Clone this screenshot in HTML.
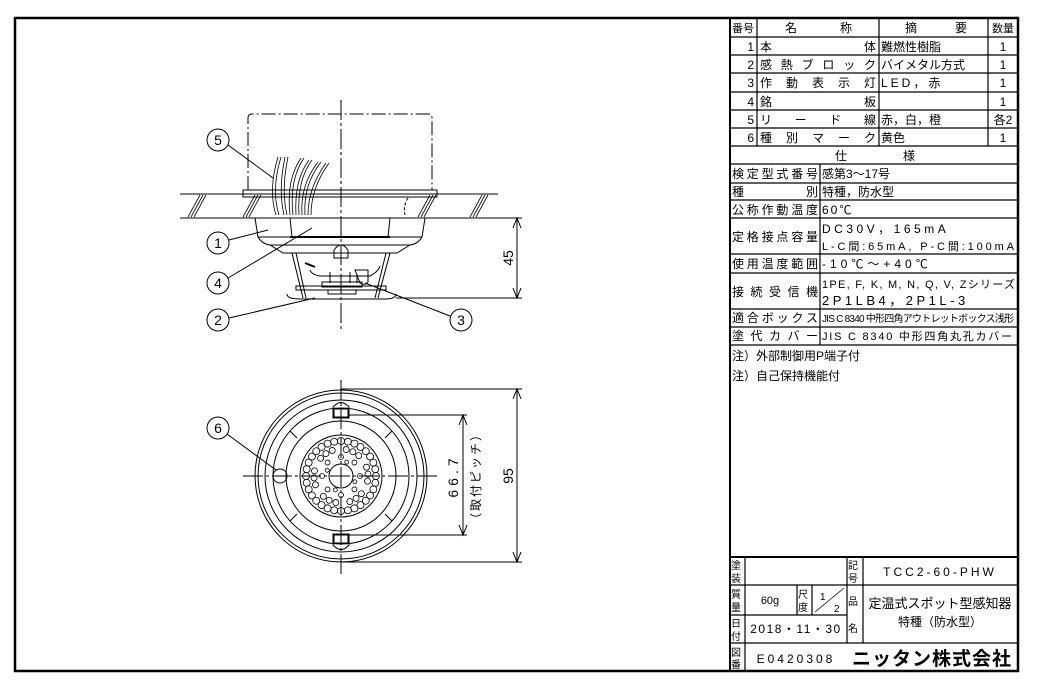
<!DOCTYPE html>
<html><head><meta charset="utf-8"><style>
html,body{margin:0;padding:0;background:#fff}
svg{display:block}
text{font-family:"Liberation Sans","Noto Sans CJK JP",sans-serif;fill:#000}
</style></head><body>
<svg width="1043" height="683" viewBox="0 0 1043 683" xmlns="http://www.w3.org/2000/svg">
<rect x="15" y="18" width="1003" height="653" fill="none" stroke="#000" stroke-width="2.5"/>

<g stroke="#000" fill="none" stroke-width="1.2">
<line x1="730" y1="18" x2="730" y2="671" stroke-width="2"/>
<g>
<line x1="730" y1="37" x2="1018" y2="37"/>
<line x1="730" y1="55" x2="1018" y2="55"/>
<line x1="730" y1="73" x2="1018" y2="73"/>
<line x1="730" y1="92" x2="1018" y2="92"/>
<line x1="730" y1="110" x2="1018" y2="110"/>
<line x1="730" y1="128" x2="1018" y2="128"/>
<line x1="730" y1="146" x2="1018" y2="146"/>
<line x1="730" y1="164" x2="1018" y2="164"/>
<line x1="730" y1="183" x2="1018" y2="183"/>
<line x1="730" y1="200" x2="1018" y2="200"/>
<line x1="730" y1="218" x2="1018" y2="218"/>
<line x1="730" y1="254" x2="1018" y2="254"/>
<line x1="730" y1="273" x2="1018" y2="273"/>
<line x1="730" y1="309" x2="1018" y2="309"/>
<line x1="730" y1="327" x2="1018" y2="327"/>
<line x1="730" y1="345" x2="1018" y2="345"/>
<line x1="757" y1="18" x2="757" y2="146"/>
<line x1="879" y1="18" x2="879" y2="146"/>
<line x1="988" y1="18" x2="988" y2="146"/>
<line x1="820" y1="164" x2="820" y2="345"/>
</g>
<line x1="730" y1="557" x2="1018" y2="557" stroke-width="2"/>
<line x1="730" y1="585" x2="1018" y2="585"/>
<line x1="730" y1="615" x2="847" y2="615"/>
<line x1="730" y1="643" x2="1018" y2="643"/>
<line x1="745" y1="557" x2="745" y2="671"/>
<line x1="847" y1="557" x2="847" y2="643"/>
<line x1="863" y1="557" x2="863" y2="643"/>
<line x1="797" y1="585" x2="797" y2="615"/>
<line x1="812" y1="585" x2="812" y2="615"/>
<line x1="815" y1="612" x2="844" y2="588" stroke-width="0.8"/>
</g>

<g font-size="12">
<text x="743" y="32" text-anchor="middle" font-size="11">番号</text>
<text x="785" y="32">名</text><text x="840" y="32">称</text>
<text x="905" y="32">摘</text><text x="955" y="32">要</text>
<text x="1003" y="32" text-anchor="middle" font-size="11">数量</text>

<g text-anchor="end"><text x="754" y="51">1</text><text x="754" y="69">2</text><text x="754" y="87">3</text><text x="754" y="106">4</text><text x="754" y="124">5</text><text x="754" y="142">6</text></g>
<text x="760" y="51" textLength="116" lengthAdjust="spacing">本体</text>
<text x="760" y="69" textLength="116" lengthAdjust="spacing">感熱ブロック</text>
<text x="760" y="87" textLength="116" lengthAdjust="spacing">作動表示灯</text>
<text x="760" y="106" textLength="116" lengthAdjust="spacing">銘板</text>
<text x="760" y="124" textLength="116" lengthAdjust="spacing">リード線</text>
<text x="760" y="142" textLength="116" lengthAdjust="spacing">種別マーク</text>
<text x="881" y="51">難燃性樹脂</text>
<text x="881" y="69">バイメタル方式</text>
<text x="881" y="87" letter-spacing="3">LED，赤</text>
<text x="881" y="124">赤，白，橙</text>
<text x="881" y="142">黄色</text>
<g text-anchor="middle"><text x="1003" y="51">1</text><text x="1003" y="69">1</text><text x="1003" y="87">1</text><text x="1003" y="106">1</text><text x="1003" y="124">各2</text><text x="1003" y="142">1</text></g>
<text x="835" y="160">仕</text><text x="903" y="160">様</text>

<text x="732" y="178" textLength="86" lengthAdjust="spacing">検定型式番号</text>
<text x="732" y="196" textLength="86" lengthAdjust="spacing">種別</text>
<text x="732" y="214" textLength="86" lengthAdjust="spacing">公称作動温度</text>
<text x="732" y="241" textLength="86" lengthAdjust="spacing">定格接点容量</text>
<text x="732" y="268" textLength="86" lengthAdjust="spacing">使用温度範囲</text>
<text x="732" y="296" textLength="86" lengthAdjust="spacing">接続受信機</text>
<text x="732" y="322" textLength="86" lengthAdjust="spacing">適合ボックス</text>
<text x="732" y="340" textLength="86" lengthAdjust="spacing">塗代カバー</text>

<text x="822" y="178">感第3～17号</text>
<text x="822" y="196">特種，防水型</text>
<text x="822" y="214" letter-spacing="2">60℃</text>
<text x="822" y="233" letter-spacing="3.5">DC30V，165mA</text>
<text x="822" y="250" font-size="11" textLength="192" lengthAdjust="spacing">L-C間:65mA, P-C間:100mA</text>
<text x="822" y="268" letter-spacing="4">-10℃～+40℃</text>
<text x="822" y="288" font-size="11" textLength="193" lengthAdjust="spacing">1PE, F, K, M, N, Q, V, Zシリーズ</text>
<text x="822" y="305" font-size="13" letter-spacing="3.5">2P1LB4，2P1L-3</text>
<text x="822" y="322" font-size="10" textLength="192" lengthAdjust="spacing">JIS C 8340 中形四角アウトレットボックス浅形</text>
<text x="822" y="340" font-size="11" textLength="190" lengthAdjust="spacing">JIS C 8340 中形四角丸孔カバー</text>

<text x="732" y="360">注）外部制御用P端子付</text>
<text x="732" y="380">注）自己保持機能付</text>

<g font-size="10">
<text x="731" y="569">塗</text><text x="731" y="582">装</text>
<text x="848" y="569">記</text><text x="848" y="582">号</text>
<text x="731" y="598">質</text><text x="731" y="611">量</text>
<text x="798" y="598">尺</text><text x="798" y="611">度</text>
<text x="731" y="627">日</text><text x="731" y="640">付</text>
<text x="731" y="656">図</text><text x="731" y="668">番</text>
<text x="848" y="605">品</text><text x="848" y="632">名</text>
</g>
<text x="940" y="576" text-anchor="middle" letter-spacing="3">TCC2-60-PHW</text>
<text x="770" y="604" text-anchor="middle" font-size="11">60g</text>
<text x="820" y="600" font-size="10">1</text><text x="834" y="612" font-size="10">2</text>
<text x="796" y="633" text-anchor="middle" letter-spacing="1.5">2018・11・30</text>
<text x="940" y="608" text-anchor="middle" font-size="13">定温式スポット型感知器</text>
<text x="940" y="626" text-anchor="middle">特種（防水型）</text>
<text x="796" y="663" text-anchor="middle" letter-spacing="3">E0420308</text>
<text x="932" y="665" text-anchor="middle" font-size="19" font-weight="bold" letter-spacing="1">ニッタン株式会社</text>
</g>

<g stroke="#000" fill="none" stroke-width="1">
<path d="M248 190 V118 Q248 114 252 114 H428 Q432 114 432 118 V190" stroke-dasharray="14,3,2,3"/>
<rect x="243" y="190" width="194" height="7"/>
<line x1="341" y1="100" x2="341" y2="330" stroke-dasharray="20,3,3,3"/>
<line x1="180" y1="194" x2="498" y2="194"/>
<line x1="180" y1="218" x2="522" y2="218"/>
<line x1="243" y1="197" x2="437" y2="197" stroke-dasharray="12,4"/>
<path d="M408 198 Q403 205 405 215" stroke-dasharray="3,2"/>
<g stroke-width="0.8">
<path d="M188 217 L200 195 M191 217 L203 195 M194 217 L206 195"/>
<path d="M243 217 L255 195 M246 217 L258 195 M249 217 L261 195"/>
<path d="M418 217 L430 195 M421 217 L433 195 M424 217 L436 195"/>
<path d="M470 217 L482 195 M473 217 L485 195 M476 217 L488 195"/>
</g>
<g stroke-width="0.8">
<path d="M276 215 Q268 190 278 157 M279 215 Q271 190 281 157"/>
<path d="M284 215 Q278 190 285 157 M287 215 Q281 190 288 157"/>
<path d="M290 215 Q286 180 301 158 M293 215 Q289 180 304 158"/>
<path d="M296 215 Q294 180 309 160 M299 215 Q297 180 312 160"/>
<path d="M302 215 Q300 185 318 162 M305 215 Q303 185 321 162"/>
<path d="M308 215 Q308 188 326 163 M311 215 Q311 188 329 163"/>
</g>
<path d="M255 218 L258 237 Q262 244 270 245 L283 253 H397 L410 245 Q418 244 422 237 L425 218"/>
<line x1="258" y1="237" x2="422" y2="237"/>
<line x1="270" y1="245" x2="410" y2="245"/>
<line x1="290" y1="237" x2="390" y2="237" stroke-width="2"/>
<line x1="290" y1="218" x2="292" y2="237"/>
<line x1="390" y1="218" x2="388" y2="237"/>
<path d="M334 258 V250 Q341 240 348 250 V258 Z"/>
<path d="M292 253 L303 298 M296 253 L306 298"/>
<path d="M390 253 L378 298 M386 253 L375 298"/>
<path d="M310 270 Q312 275 320 276 H370 Q378 272 380 266"/>
<line x1="305" y1="263" x2="315" y2="267" stroke-width="2"/>
<path d="M330 272 V283 M350 272 V283 M357 274 V283"/>
<path d="M355 270 H368 V282 Q365 286 360 283 Z"/>
<rect x="322" y="282" width="40" height="5"/>
<rect x="296" y="286" width="90" height="4"/>
<rect x="328" y="290" width="28" height="4"/>
<path d="M287 294 Q287 299 300 299 H385 Q396 299 396 294"/>
<line x1="517" y1="218" x2="517" y2="298"/>
<line x1="396" y1="298" x2="522" y2="298"/>
<path d="M513 228 L517 218 L521 228 M513 288 L517 298 L521 288"/>
<line x1="228" y1="145" x2="273" y2="178"/>
<line x1="229" y1="240" x2="268" y2="230"/>
<line x1="228" y1="278" x2="312" y2="228"/>
<line x1="229" y1="318" x2="315" y2="298"/>
<line x1="450" y1="316" x2="365" y2="283"/>
<circle cx="218" cy="140" r="11"/>
<circle cx="218" cy="243" r="11"/>
<circle cx="218" cy="283" r="11"/>
<circle cx="218" cy="320" r="11"/>
<circle cx="461" cy="320" r="11"/>
<circle cx="218" cy="428" r="11"/>
</g>
<g font-size="14" text-anchor="middle">
<text x="218" y="145">5</text><text x="218" y="248">1</text><text x="218" y="288">4</text><text x="218" y="325">2</text><text x="461" y="325">3</text><text x="218" y="433">6</text>
<text transform="translate(513 258) rotate(-90)" font-size="14">45</text>
<text transform="translate(513 476) rotate(-90)" font-size="14">95</text>
<text transform="translate(458 476) rotate(-90)" font-size="14" letter-spacing="4">66.7</text>
<text transform="translate(480 476) rotate(-90)" font-size="12" letter-spacing="2">（取付ピッチ）</text>
</g>

<g stroke="#000" fill="none" stroke-width="1">
<line x1="243" y1="476" x2="438" y2="476" stroke-dasharray="20,3,3,3"/>
<line x1="341" y1="380" x2="341" y2="575" stroke-dasharray="20,3,3,3"/>
<circle cx="341" cy="476" r="86"/>
<circle cx="341" cy="476" r="83"/>
<circle cx="341" cy="476" r="76"/>
<circle cx="341" cy="476" r="68"/>
<circle cx="341" cy="476" r="55"/>
<circle cx="341" cy="476" r="41"/>
<circle cx="341" cy="476" r="12"/>
<circle cx="280" cy="476" r="7"/>
<g stroke-width="1">
<line x1="290" y1="431" x2="297" y2="438"/><line x1="392" y1="431" x2="385" y2="438"/>
<line x1="290" y1="521" x2="297" y2="514"/><line x1="392" y1="521" x2="385" y2="514"/>
</g>
<path d="M333 418 V407 Q341 398 349 407 V418 Z"/>
<rect x="334" y="409" width="14" height="8"/>
<path d="M333 534 V545 Q341 554 349 545 V534 Z"/>
<rect x="334" y="535" width="14" height="8"/>
<line x1="349" y1="415" x2="467" y2="415"/>
<line x1="349" y1="535" x2="467" y2="535"/>
<line x1="341" y1="389" x2="522" y2="389"/>
<line x1="341" y1="562" x2="522" y2="562"/>
<line x1="463" y1="415" x2="463" y2="535"/>
<path d="M459 425 L463 415 L467 425 M459 525 L463 535 L467 525"/>
<line x1="517" y1="389" x2="517" y2="562"/>
<path d="M513 399 L517 389 L521 399 M513 552 L517 562 L521 552"/>
<line x1="227" y1="434" x2="276" y2="470"/>
<g stroke-width="0.8">
<circle cx="341" cy="441" r="3.5"/><circle cx="341" cy="441" r="3.5" transform="rotate(22.5 341 476)"/><circle cx="341" cy="441" r="3.5" transform="rotate(45 341 476)"/><circle cx="341" cy="441" r="3.5" transform="rotate(67.5 341 476)"/><circle cx="341" cy="441" r="3.5" transform="rotate(90 341 476)"/><circle cx="341" cy="441" r="3.5" transform="rotate(112.5 341 476)"/><circle cx="341" cy="441" r="3.5" transform="rotate(135 341 476)"/><circle cx="341" cy="441" r="3.5" transform="rotate(157.5 341 476)"/><circle cx="341" cy="441" r="3.5" transform="rotate(180 341 476)"/><circle cx="341" cy="441" r="3.5" transform="rotate(202.5 341 476)"/><circle cx="341" cy="441" r="3.5" transform="rotate(225 341 476)"/><circle cx="341" cy="441" r="3.5" transform="rotate(247.5 341 476)"/><circle cx="341" cy="441" r="3.5" transform="rotate(270 341 476)"/><circle cx="341" cy="441" r="3.5" transform="rotate(292.5 341 476)"/><circle cx="341" cy="441" r="3.5" transform="rotate(315 341 476)"/><circle cx="341" cy="441" r="3.5" transform="rotate(337.5 341 476)"/>
<circle cx="341" cy="441" r="3.5" transform="rotate(11.25 341 476)"/><circle cx="341" cy="441" r="3.5" transform="rotate(33.75 341 476)"/><circle cx="341" cy="441" r="3.5" transform="rotate(56.25 341 476)"/><circle cx="341" cy="441" r="3.5" transform="rotate(78.75 341 476)"/><circle cx="341" cy="441" r="3.5" transform="rotate(101.25 341 476)"/><circle cx="341" cy="441" r="3.5" transform="rotate(123.75 341 476)"/><circle cx="341" cy="441" r="3.5" transform="rotate(146.25 341 476)"/><circle cx="341" cy="441" r="3.5" transform="rotate(168.75 341 476)"/><circle cx="341" cy="441" r="3.5" transform="rotate(191.25 341 476)"/><circle cx="341" cy="441" r="3.5" transform="rotate(213.75 341 476)"/><circle cx="341" cy="441" r="3.5" transform="rotate(236.25 341 476)"/><circle cx="341" cy="441" r="3.5" transform="rotate(258.75 341 476)"/><circle cx="341" cy="441" r="3.5" transform="rotate(281.25 341 476)"/><circle cx="341" cy="441" r="3.5" transform="rotate(303.75 341 476)"/><circle cx="341" cy="441" r="3.5" transform="rotate(326.25 341 476)"/><circle cx="341" cy="441" r="3.5" transform="rotate(348.75 341 476)"/>
<circle cx="341" cy="449" r="3" transform="rotate(11 341 476)"/><circle cx="341" cy="449" r="3" transform="rotate(41 341 476)"/><circle cx="341" cy="449" r="3" transform="rotate(71 341 476)"/><circle cx="341" cy="449" r="3" transform="rotate(101 341 476)"/><circle cx="341" cy="449" r="3" transform="rotate(131 341 476)"/><circle cx="341" cy="449" r="3" transform="rotate(161 341 476)"/><circle cx="341" cy="449" r="3" transform="rotate(191 341 476)"/><circle cx="341" cy="449" r="3" transform="rotate(221 341 476)"/><circle cx="341" cy="449" r="3" transform="rotate(251 341 476)"/><circle cx="341" cy="449" r="3" transform="rotate(281 341 476)"/><circle cx="341" cy="449" r="3" transform="rotate(311 341 476)"/><circle cx="341" cy="449" r="3" transform="rotate(341 341 476)"/>
<circle cx="341" cy="449" r="3" transform="rotate(26 341 476)"/><circle cx="341" cy="449" r="3" transform="rotate(86 341 476)"/><circle cx="341" cy="449" r="3" transform="rotate(146 341 476)"/><circle cx="341" cy="449" r="3" transform="rotate(206 341 476)"/><circle cx="341" cy="449" r="3" transform="rotate(266 341 476)"/><circle cx="341" cy="449" r="3" transform="rotate(326 341 476)"/>
<circle cx="341" cy="457" r="2.5"/><circle cx="341" cy="457" r="2.5" transform="rotate(45 341 476)"/><circle cx="341" cy="457" r="2.5" transform="rotate(90 341 476)"/><circle cx="341" cy="457" r="2.5" transform="rotate(135 341 476)"/><circle cx="341" cy="457" r="2.5" transform="rotate(180 341 476)"/><circle cx="341" cy="457" r="2.5" transform="rotate(225 341 476)"/><circle cx="341" cy="457" r="2.5" transform="rotate(270 341 476)"/><circle cx="341" cy="457" r="2.5" transform="rotate(315 341 476)"/>
<circle cx="341" cy="461" r="2" transform="rotate(22.5 341 476)"/><circle cx="341" cy="461" r="2" transform="rotate(112.5 341 476)"/><circle cx="341" cy="461" r="2" transform="rotate(202.5 341 476)"/><circle cx="341" cy="461" r="2" transform="rotate(292.5 341 476)"/>
</g>
</g>
</svg>
</body></html>
